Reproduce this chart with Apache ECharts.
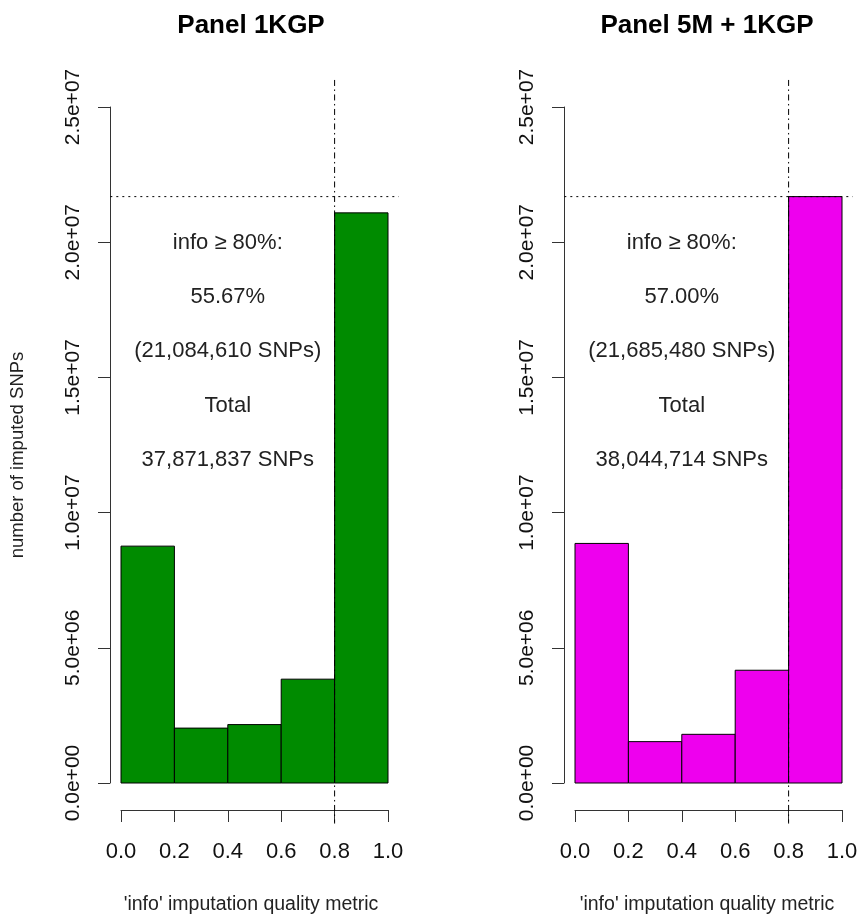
<!DOCTYPE html>
<html>
<head>
<meta charset="utf-8">
<script src="https://cdn.jsdelivr.net/npm/echarts@6/dist/echarts.min.js"></script>
<style>
  html, body { margin: 0; padding: 0; background: #fff; }
  #chart { width: 858px; height: 917px; }
</style>
</head>
<body>
<div id="chart"></div>
<script>
// Histogram bins of the 'info' imputation quality metric
const breaks = [0, 0.2, 0.4, 0.6, 0.8, 1.0];
const counts1KGP = [8760000, 2030000, 2160000, 3840000, 21084610];
const counts5M1KGP = [8860000, 1530000, 1800000, 4170000, 21685480];

const panelTitles = ['Panel 1KGP', 'Panel 5M + 1KGP'];
const xAxisTitle = "'info' imputation quality metric";
const yAxisTitle = 'number of imputed SNPs';

const yTicks = [0, 5e6, 1e7, 1.5e7, 2e7, 2.5e7];
const xTicks = [0, 0.2, 0.4, 0.6, 0.8, 1.0];

const infoThreshold = 0.8;
const maxHighQuality = 21685480;

const notes1KGP = ['info ≥ 80%:', '55.67%', '(21,084,610 SNPs)', 'Total', '37,871,837 SNPs'];
const notes5M1KGP = ['info ≥ 80%:', '57.00%', '(21,685,480 SNPs)', 'Total', '38,044,714 SNPs'];
const noteY = [2e7, 1.8e7, 1.6e7, 1.4e7, 1.2e7];
const noteX = 0.4;

const FONT = '"Liberation Sans", Arial, sans-serif';
const barColors = ['#008B00', '#EE00EE'];
const panels = [
  { counts: counts1KGP, notes: notes1KGP, left: 121, center: 251 },
  { counts: counts5M1KGP, notes: notes5M1KGP, left: 575, center: 707 }
];

// R-style scientific tick labels: 5.0e+06
function sci(v) {
  const parts = v.toExponential(1).split('e');
  const sign = parts[1][0];
  const digits = parts[1].slice(1).padStart(2, '0');
  return parts[0] + 'e' + sign + digits;
}

const chart = echarts.init(document.getElementById('chart'), null, { renderer: 'canvas' });

const grids = panels.map(p => ({
  left: p.left, width: 267, top: 107, height: 676,
  outerBoundsMode: 'none', containLabel: false
}));

const xAxes = panels.map((p, i) => ({
  type: 'value', gridIndex: i, min: xTicks[0], max: xTicks[xTicks.length - 1],
  interval: 0.2, offset: 27,
  axisLine: { show: true, onZero: false, lineStyle: { color: '#333', width: 1 } },
  axisTick: { show: true, length: 12, lineStyle: { color: '#333', width: 1 } },
  axisLabel: { fontSize: 22, fontFamily: FONT, color: '#111', margin: 31,
    formatter: v => v.toFixed(1) },
  splitLine: { show: false }
}));

const yAxes = panels.map((p, i) => ({
  type: 'value', gridIndex: i, min: yTicks[0], max: yTicks[yTicks.length - 1],
  interval: 5e6, offset: 11, position: 'left',
  axisLine: { show: true, onZero: false, lineStyle: { color: '#333', width: 1 } },
  axisTick: { show: true, length: 12, lineStyle: { color: '#333', width: 1 } },
  axisLabel: { fontSize: 21, fontFamily: FONT, color: '#111', margin: 26, rotate: 90,
    formatter: v => sci(v) },
  splitLine: { show: false }
}));

const series = [];
panels.forEach((p, i) => {
  // histogram bars
  series.push({
    type: 'custom', xAxisIndex: i, yAxisIndex: i, clip: false,
    data: p.counts.map((c, k) => [breaks[k], breaks[k + 1], c]),
    encode: { x: [0, 1], y: 2 },
    renderItem: (params, api) => {
      const tl = api.coord([api.value(0), api.value(2)]);
      const br = api.coord([api.value(1), 0]);
      return {
        type: 'rect',
        shape: { x: tl[0], y: tl[1], width: br[0] - tl[0], height: br[1] - tl[1] },
        style: { fill: barColors[i], stroke: '#000', lineWidth: 1 }
      };
    },
    z: 2
  });
  // reference lines: threshold and highest high-quality count
  series.push({
    type: 'custom', xAxisIndex: i, yAxisIndex: i, clip: false, silent: true,
    data: [[infoThreshold, maxHighQuality]],
    renderItem: (params, api) => {
      const x = api.value(0), y = api.value(1);
      const v0 = api.coord([x, 2.6e7]);
      const v1 = api.coord([x, -1.5e6]);
      const h0 = api.coord([-0.04, y]);
      const h1 = api.coord([1.04, y]);
      return {
        type: 'group',
        children: [
          { type: 'line', shape: { x1: v0[0], y1: v0[1], x2: v1[0], y2: v1[1] },
            style: { stroke: '#000', lineWidth: 1, lineDash: [6, 3.5, 1.5, 3.5] } },
          { type: 'line', shape: { x1: h0[0], y1: h0[1], x2: h1[0], y2: h1[1] },
            style: { stroke: '#000', lineWidth: 1, lineDash: [2, 4] } }
        ]
      };
    },
    z: 3
  });
  // annotation text
  series.push({
    type: 'custom', xAxisIndex: i, yAxisIndex: i, clip: false, silent: true,
    data: p.notes.map((t, k) => [noteX, noteY[k], t]),
    encode: { x: 0, y: 1 },
    renderItem: (params, api) => {
      const pt = api.coord([api.value(0), api.value(1)]);
      return {
        type: 'text', x: pt[0], y: pt[1] + 1,
        style: { text: p.notes[params.dataIndex], fill: '#222',
          font: '22px ' + FONT, align: 'center', verticalAlign: 'middle' }
      };
    },
    z: 4
  });
});

const graphics = [];
panels.forEach((p, i) => {
  graphics.push({
    type: 'text', x: p.center, y: 26,
    style: { text: panelTitles[i], fill: '#000', font: 'bold 26px ' + FONT,
      align: 'center', verticalAlign: 'middle' }
  });
  graphics.push({
    type: 'text', x: p.center, y: 905,
    style: { text: xAxisTitle, fill: '#222', font: '19.5px ' + FONT,
      align: 'center', verticalAlign: 'middle' }
  });
});
graphics.push({
  type: 'text', x: 18, y: 455, rotation: Math.PI / 2,
  style: { text: yAxisTitle, fill: '#222', font: '18.5px ' + FONT,
    align: 'center', verticalAlign: 'middle' }
});

chart.setOption({
  backgroundColor: '#fff',
  animation: false,
  grid: grids,
  xAxis: xAxes,
  yAxis: yAxes,
  series: series,
  graphic: graphics
});
</script>
</body>
</html>
